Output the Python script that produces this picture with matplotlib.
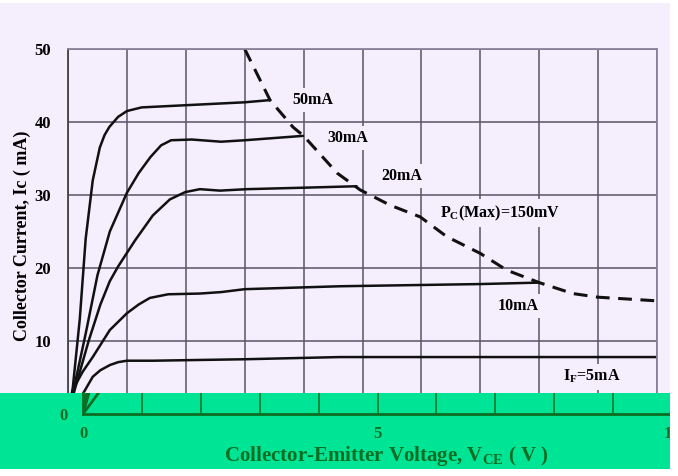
import matplotlib
matplotlib.use("Agg")
import matplotlib.pyplot as plt
from matplotlib.patches import Rectangle

# output characteristics, Ic (mA) vs Vce (V)
vce_50 = [0, 0.08, 0.2, 0.3, 0.42, 0.54, 0.62, 0.7, 0.85, 1.0, 1.25, 2.0, 3.0, 3.43]
ic_50 = [0, 3.5, 13, 24, 32, 36.5, 38.2, 39.3, 40.7, 41.5, 42.0, 42.3, 42.7, 43.0]

vce_30 = [0, 0.1, 0.3, 0.5, 0.71, 1.0, 1.2, 1.4, 1.58, 1.75, 2.1, 2.6, 3.0, 3.99]
ic_30 = [0, 3.5, 11, 19, 25, 30.3, 33.0, 35.2, 36.8, 37.5, 37.6, 37.3, 37.5, 38.1]

vce_20 = [0, 0.12, 0.35, 0.55, 0.71, 0.85, 1.14, 1.44, 1.73, 1.99, 2.24, 2.58, 3.04, 4.0, 4.9]
ic_20 = [0, 3.5, 10, 15, 18.2, 20.2, 23.8, 27.2, 29.4, 30.4, 30.8, 30.6, 30.8, 31.0, 31.2]

vce_10 = [0, 0.08, 0.25, 0.42, 0.71, 1.0, 1.2, 1.39, 1.7, 2.24, 2.6, 3.0, 4.62, 7.0, 8.0]
ic_10 = [0, 3.3, 5.8, 7.8, 11.5, 13.8, 15.0, 15.9, 16.4, 16.5, 16.7, 17.1, 17.5, 17.8, 18.0]

vce_5 = [0, 0.27, 0.42, 0.55, 0.71, 0.85, 1.0, 1.44, 3.0, 4.62, 7.0, 10.0]
ic_5 = [0, 3.0, 5.1, 6.0, 6.7, 7.1, 7.3, 7.3, 7.5, 7.8, 7.8, 7.8]

# Pc(max) limit
vce_pc = [3.0, 3.43, 3.82, 4.0, 4.57, 4.96, 5.47, 5.98, 6.43, 7.0, 7.45, 8.0, 8.57, 9.0, 10.0]
ic_pc = [50, 43, 39.3, 38.1, 33.0, 30.7, 28.6, 27.0, 24.3, 22.0, 19.7, 18.0, 16.5, 16.0, 15.5]

curves = [(vce_50, ic_50), (vce_30, ic_30), (vce_20, ic_20), (vce_10, ic_10), (vce_5, ic_5)]

# label text and where it sits (V, mA)
labels = ["50mA", "30mA", "20mA", "P$_C$(Max)=150mV", "10mA", "I$_F$=5mA"]
label_x = [4.16, 4.75, 5.67, 7.33, 7.64, 8.9]
label_y = [43.0, 37.8, 32.6, 27.5, 14.8, 5.1]

lav = "#f4eefd"
green = "#00e496"
dkgreen = "#0b6e22"

plt.rcParams["font.family"] = "Liberation Serif"
plt.rcParams["font.weight"] = "bold"
plt.rcParams["mathtext.fontset"] = "custom"
plt.rcParams["mathtext.bf"] = "Liberation Serif:bold"
plt.rcParams["mathtext.rm"] = "Liberation Serif:bold"
plt.rcParams["mathtext.default"] = "bf"

W, H = 678.0, 476.0
fig = plt.figure(figsize=(6.78, 4.76), dpi=100, facecolor=lav)

# main chart
ax = fig.add_axes([68 / W, 62 / H, 589 / W, 365 / H])
ax.set_facecolor("none")
ax.set_xlim(0, 10)
ax.set_ylim(0, 50)
ax.set_xticks(range(0, 11))
ax.set_yticks(range(0, 51, 10))
ax.set_xticklabels([])
ax.set_yticklabels(["", "10", "20", "30", "40", "50"], fontsize=12, fontweight="bold")
ax.tick_params(length=0, pad=12)
ax.grid(True, color="#5a5566", lw=1.1)
for s in ax.spines.values():
    s.set_color("#8a8298")
    s.set_linewidth(1.3)
ax.spines["left"].set_color("#444444")

for vx, iy in curves:
    ax.plot(vx, iy, color="#111111", lw=1.8, solid_capstyle="round", solid_joinstyle="round")
ax.plot(vce_pc, ic_pc, color="#111111", lw=2.2, dashes=(4.5, 2.8))

for t, lx, ly in zip(labels, label_x, label_y):
    ax.text(lx, ly, t, ha="center", va="center", fontsize=11.5, fontweight="bold",
            bbox=dict(facecolor=lav, edgecolor="none", pad=3))

fig.text(22 / W, 1 - 236 / H, "Collector Current, Ic ( mA)", rotation=90,
         ha="center", va="center", fontsize=13, fontweight="bold")

# green band over the bottom of the chart, with its own shifted axis copy
fig.add_artist(Rectangle((0, 7 / H), 670 / W, 76 / H, transform=fig.transFigure,
                         facecolor=green, edgecolor="none", zorder=1))

ax2 = fig.add_axes([83 / W, 62 / H, 589 / W, 21 / H])
ax2.set_zorder(3)
ax2.set_facecolor("none")
ax2.set_xlim(0, 10)
ax2.set_ylim(0, 2.9)
ax2.set_xticks(range(0, 11))
ax2.set_xticklabels(["0", "", "", "", "", "5", "", "", "", "", "10"],
                    fontsize=12, fontweight="bold", color=dkgreen)
ax2.set_yticks([0])
ax2.set_yticklabels(["0"], fontsize=12, fontweight="bold", color=dkgreen)
ax2.tick_params(axis="x", length=0, pad=9)
ax2.tick_params(axis="y", length=0, pad=11)
ax2.grid(True, axis="x", color=dkgreen, lw=1.1)
for k in ["top", "right"]:
    ax2.spines[k].set_visible(False)
ax2.spines["bottom"].set_color(dkgreen)
ax2.spines["bottom"].set_linewidth(2)
ax2.spines["left"].set_color(dkgreen)
ax2.spines["left"].set_linewidth(2)
for vx, iy in curves:
    ax2.plot(vx, iy, color=dkgreen, lw=2)

fig.text(386 / W, 1 - 456 / H, "Collector-Emitter Voltage, V$_{CE}$ ( V )",
         ha="center", va="center", fontsize=15, fontweight="bold", color=dkgreen, zorder=4)

# white margins of the scan
for r in [(670 / W, 0, 8 / W, 1), (0, 0, 1, 7 / H), (0, 1 - 3 / H, 1, 3 / H)]:
    fig.add_artist(Rectangle((r[0], r[1]), r[2], r[3], transform=fig.transFigure,
                             facecolor="white", edgecolor="none", zorder=5))

fig.savefig("out.png", dpi=100, facecolor=lav)
